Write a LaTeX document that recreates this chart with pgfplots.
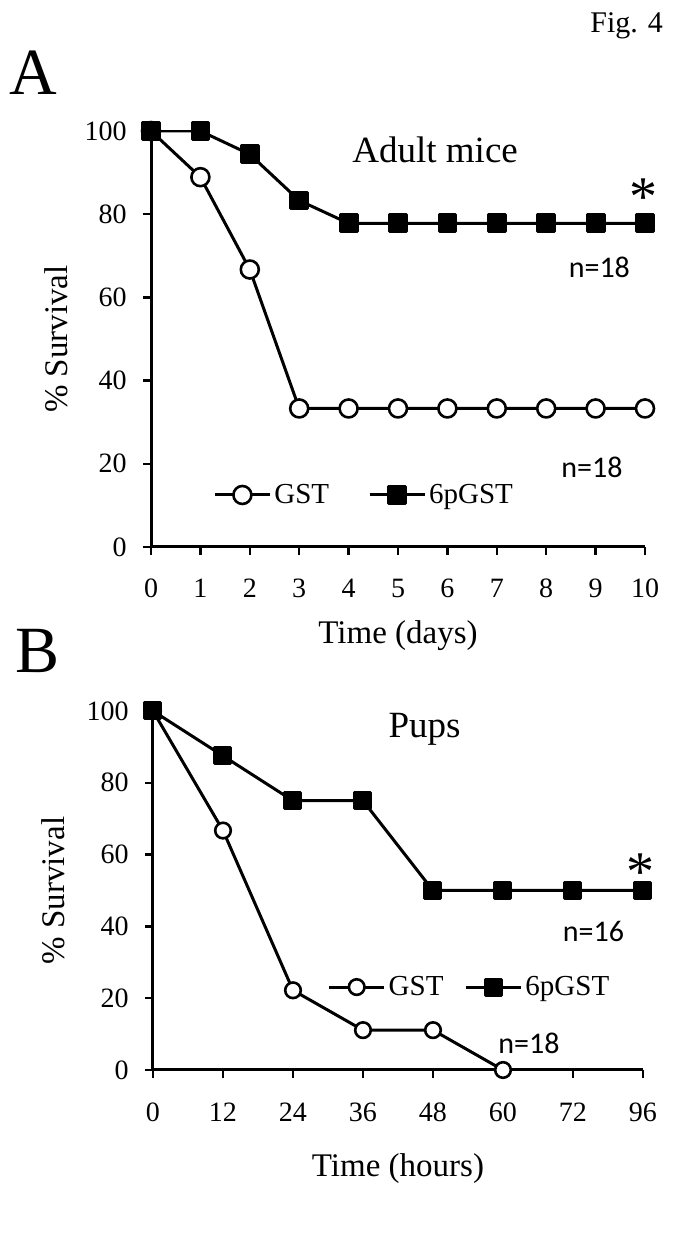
\documentclass[border=0pt]{standalone}
\usepackage{fontspec}
\setmainfont{Liberation Serif}
\newfontfamily\calib{Carlito}
\usepackage{pgfplots}
\pgfplotsset{compat=1.18}
\pgfplotsset{
  survstyle/.style={
    scale only axis,
    axis x line=bottom, axis y line=left,
    axis line style={-, line width=1.5pt},
    tick align=outside,
    major tick length=4pt,
    tick style={line width=1.2pt, black},
    ymin=0, ymax=100, ytick={0,20,...,100},
    /pgf/number format/assume math mode=true,
    tick label style={font=\fontsize{14}{16}\selectfont, inner sep=0pt},
    xticklabel style={anchor=base, yshift=-21.5pt},
    yticklabel style={anchor=east, xshift=-8pt},
    label style={font=\fontsize{16.5}{18}\selectfont},
    clip mode=individual,
    legend image code/.code={\draw[##1, mark repeat=2, mark phase=2] plot coordinates {(0pt,0pt) (13.75pt,0pt) (27.5pt,0pt)};},
    legend style={draw=none, fill=none, inner sep=0pt, font=\fontsize{14.5}{16}\selectfont, nodes={inner sep=1.5pt}},
    legend columns=2,
  },
  gst/.style={black, line width=1.5pt, line join=round, mark=*, mark size=4.5pt, mark options={line width=1.3pt, fill=white, draw=black}},
  pg/.style={black, line width=1.5pt, line join=round, mark=square*, mark size=4.2pt, mark options={line width=1.5pt, fill=black}},
}
\begin{document}
\begin{tikzpicture}
\useasboundingbox (0,0) rectangle (348pt,623.5pt);
\node[anchor=base west, inner sep=0, font=\fontsize{15}{17}\selectfont] at (295pt,607pt) {Fig. 4};
\node[anchor=base west, inner sep=0, font=\fontsize{33}{36}\selectfont] at (4.5pt,576pt) {A};
\node[anchor=base west, inner sep=0, font=\fontsize{33}{36}\selectfont] at (7.5pt,287pt) {B};

\begin{axis}[survstyle, at={(75.5pt,350pt)}, anchor=south west, width=247pt, height=208pt,
  xmin=0, xmax=10, xtick={0,...,10},
  xlabel={Time (days)}, xlabel style={at={(axis description cs:0.5,-0.233)}, anchor=base},
  ylabel={\% Survival}, ylabel style={at={(axis description cs:-0.192,0.5)}, anchor=center},
  legend style={at={(axis cs:1.255,12.5)}, anchor=west, /tikz/every even column/.append style={column sep=18pt}},
]
\addplot[gst] coordinates {(0,100)(1,88.9)(2,66.7)(3,33.3)(4,33.3)(5,33.3)(6,33.3)(7,33.3)(8,33.3)(9,33.3)(10,33.3)};
\addplot[pg] coordinates {(0,100)(1,100)(2,94.4)(3,83.3)(4,77.8)(5,77.8)(6,77.8)(7,77.8)(8,77.8)(9,77.8)(10,77.8)};
\legend{GST,6pGST}
\node[anchor=base west, inner sep=0, font=\fontsize{18.5}{20}\selectfont] at (axis cs:4.07,92.5) {Adult mice};
\node[anchor=base west, inner sep=0, font=\calib\fontsize{15}{17}\selectfont] at (axis cs:8.45,64.7) {n=18};
\node[anchor=base west, inner sep=0, font=\calib\fontsize{15}{17}\selectfont] at (axis cs:8.3,16.8) {n=18};
\node[anchor=base, inner sep=0, font=\fontsize{28}{30}\selectfont] at (axis cs:9.96,79.6) {*};
\end{axis}

\begin{axis}[survstyle, at={(76.5pt,88.5pt)}, anchor=south west, width=245pt, height=179.5pt,
  xmin=0, xmax=7, xtick={0,...,7}, xticklabels={0,12,24,36,48,60,72,96},
  xlabel={Time (hours)}, xlabel style={at={(axis description cs:0.5,-0.298)}, anchor=base},
  ylabel={\% Survival}, ylabel style={at={(axis description cs:-0.203,0.5)}, anchor=center},
  legend style={at={(axis cs:2.49,23.1)}, anchor=west, /tikz/every even column/.append style={column sep=9pt}},
]
\addplot[gst, mark size=3.9pt] coordinates {(0,100)(1,66.7)(2,22.2)(3,11.1)(4,11.1)(5,0)};
\addplot[pg, mark size=4pt] coordinates {(0,100)(1,87.5)(2,75)(3,75)(4,50)(5,50)(6,50)(7,50)};
\legend{GST,6pGST}
\node[anchor=base west, inner sep=0, font=\fontsize{18.5}{20}\selectfont] at (axis cs:3.36,92.5) {Pups};
\node[anchor=base west, inner sep=0, font=\calib\fontsize{15}{17}\selectfont] at (axis cs:5.85,35.7) {n=16};
\node[anchor=base west, inner sep=0, font=\calib\fontsize{15}{17}\selectfont] at (axis cs:4.93,4.7) {n=18};
\node[anchor=base, inner sep=0, font=\fontsize{28}{30}\selectfont] at (axis cs:6.96,49.9) {*};
\end{axis}
\end{tikzpicture}
\end{document}
